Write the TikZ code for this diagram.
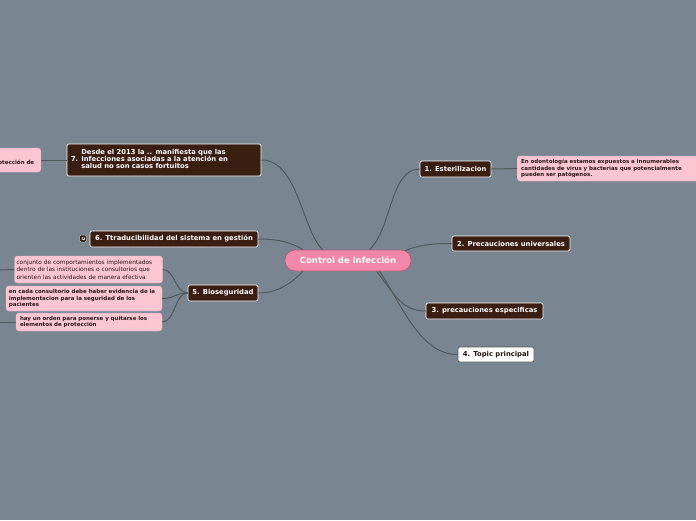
\documentclass[tikz,border=0pt]{standalone}
\usepackage{fontspec}
\setmainfont{DejaVu Sans}
\usetikzlibrary{calc}
\definecolor{bg}{RGB}{121,134,145}
\definecolor{darkbrown}{RGB}{58,30,18}
\definecolor{notepink}{RGB}{252,197,210}
\definecolor{mainpink}{RGB}{243,135,170}
\definecolor{conncol}{RGB}{80,88,94}
\definecolor{notetext}{RGB}{40,25,25}
\tikzset{
  darkbox/.style={draw=white, line width=0.7pt, fill=darkbrown, rounded corners=2pt, text=white,
    font=\fontsize{6.8}{8}\selectfont\bfseries, inner sep=0pt, align=center},
  whitebox/.style={draw=conncol, line width=0.7pt, fill=white, rounded corners=2pt, text=darkbrown!60!black,
    font=\fontsize{6.8}{8}\selectfont\bfseries, inner sep=0pt, align=center},
  notebox/.style={draw=notepink!85!gray, line width=0.4pt, fill=notepink, rounded corners=3pt, text=notetext,
    font=\fontsize{5.5}{6.3}\selectfont\bfseries, inner xsep=4pt, inner ysep=2pt, align=left},
  mainbox/.style={draw=mainpink!70!black, line width=0.7pt, fill=mainpink, rounded corners=10pt, text=white,
    font=\fontsize{8.5}{10}\selectfont\bfseries, inner sep=0pt},
  conn/.style={draw=conncol, line width=1pt},
}
\begin{document}
\begin{tikzpicture}[x=1pt,y=-1pt]
\path[use as bounding box] (0,0) rectangle (696,520);
\fill[bg] (0,0) rectangle (696,520);
\clip (0,0) rectangle (696,520);

% nodes
\node[mainbox, minimum width=126pt, minimum height=21pt] (c) at (348,260.5) {Control de infección};
\node[darkbox, minimum width=71pt, minimum height=16pt] (n1) at (455.5,169) {1. Esterilizacion};
\node[darkbox, minimum width=118pt, minimum height=15pt] (n2) at (511,243.5) {2. Precauciones universales};
\node[darkbox, minimum width=117pt, minimum height=16pt] (n3) at (484.5,311) {3. precauciones especificas};
\node[whitebox, minimum width=76pt, minimum height=15pt] (n4) at (496,354.5) {4. Topic principal};
\node[darkbox, minimum width=70pt, minimum height=16pt] (n5) at (223,293) {5. Bioseguridad};
\node[darkbox, minimum width=168pt, minimum height=16pt] (n6) at (174,239) {6. Ttraducibilidad del sistema en gestión};
\node[darkbox, minimum width=194pt, minimum height=32pt, text width=186pt, inner xsep=4pt, align=left] (n7) at (164,160)
  {\begin{tabular}{@{}l@{\hspace{3pt}}l@{}} & Desde el 2013 la .. manifiesta que las\\[-1.2pt] 7. & Infecciones asociadas a la atención en\\[-1.2pt] & salud no son casos fortuitos\end{tabular}};

% collapse icon of node 6
\node[draw=gray!60, fill=darkbrown, rounded corners=1.5pt, minimum size=7pt, inner sep=0pt, line width=0.5pt] (ic6) at (83,238.5) {};
\draw[white, line width=0.6pt] ($(ic6.center)+(1.6,-1.2)$) arc[start angle=40, end angle=-230, radius=1.6pt];

% notes
\node[notebox, anchor=west, minimum width=190pt, minimum height=25pt, text width=182pt] (t1) at (517,168.5)
  {En odontología estamos expuestos a innumerables\\cantidades de virus y bacterias que potencialmente\\pueden ser patógenos.};
\node[notebox, anchor=east, minimum height=24pt, text width=45pt] (t7) at (41,160)
  {a\\protección de};
\node[notebox, minimum width=147pt, minimum height=27pt, text width=144pt, inner xsep=2pt, font=\fontsize{5.85}{7.6}\selectfont] (p1) at (88.5,269.5)
  {conjunto de comportamientos implementados\\dentro de las instituciones o consultorios que\\orienten las actividades de manera efectiva};
\node[notebox, minimum width=156pt, minimum height=25pt, text width=150pt, inner xsep=3pt] (p2) at (84,298.5)
  {en cada consultorio debe haber evidencia de la\\implementacion para la seguridad de los\\pacientes};
\node[notebox, minimum width=146pt, minimum height=18pt, text width=138pt] (p3) at (89,322)
  {hay un orden para ponerse y quitarse los\\elementos de protección};

\coordinate (e1) at (0,270);
\coordinate (e3) at (0,322);

% connectors from central node
\draw[conn] ($(c.north west)+(38,0)$) .. controls (302,230) and (298,160) .. (n7.east);
\draw[conn] ($(c.north west)+(85,0)$) .. controls (392,228) and (390,169) .. (n1.west);
\draw[conn] ($(c.north west)+(18,0)$) .. controls (294,244) and (282,239) .. (n6.east);
\draw[conn] ($(c.north east)+(-6,1)$) .. controls (420,244) and (438,243.5) .. (n2.west);
\draw[conn] ($(c.south west)+(18,0)$) .. controls (295,280) and (280,293) .. (n5.east);
\draw[conn] ($(c.south west)+(92,0)$) .. controls (395,295) and (402,311) .. (n3.west);
\draw[conn] ($(c.south west)+(95,0)$) .. controls (402,305) and (420,354.5) .. (n4.west);
\draw[conn] (n1.east) -- (t1.west);
\draw[conn] (n7.west) -- (t7.east);

% Bioseguridad children
\draw[conn] (n5.west) .. controls (175,293) and (175,269.5) .. (p1.east);
\draw[conn] (n5.west) .. controls (175,293) and (175,298.5) .. (p2.east);
\draw[conn] (n5.west) .. controls (175,293) and (175,322) .. (p3.east);
\draw[conn] (p1.west) -- (e1);
\draw[conn] (p3.west) -- (e3);
\end{tikzpicture}
\end{document}
